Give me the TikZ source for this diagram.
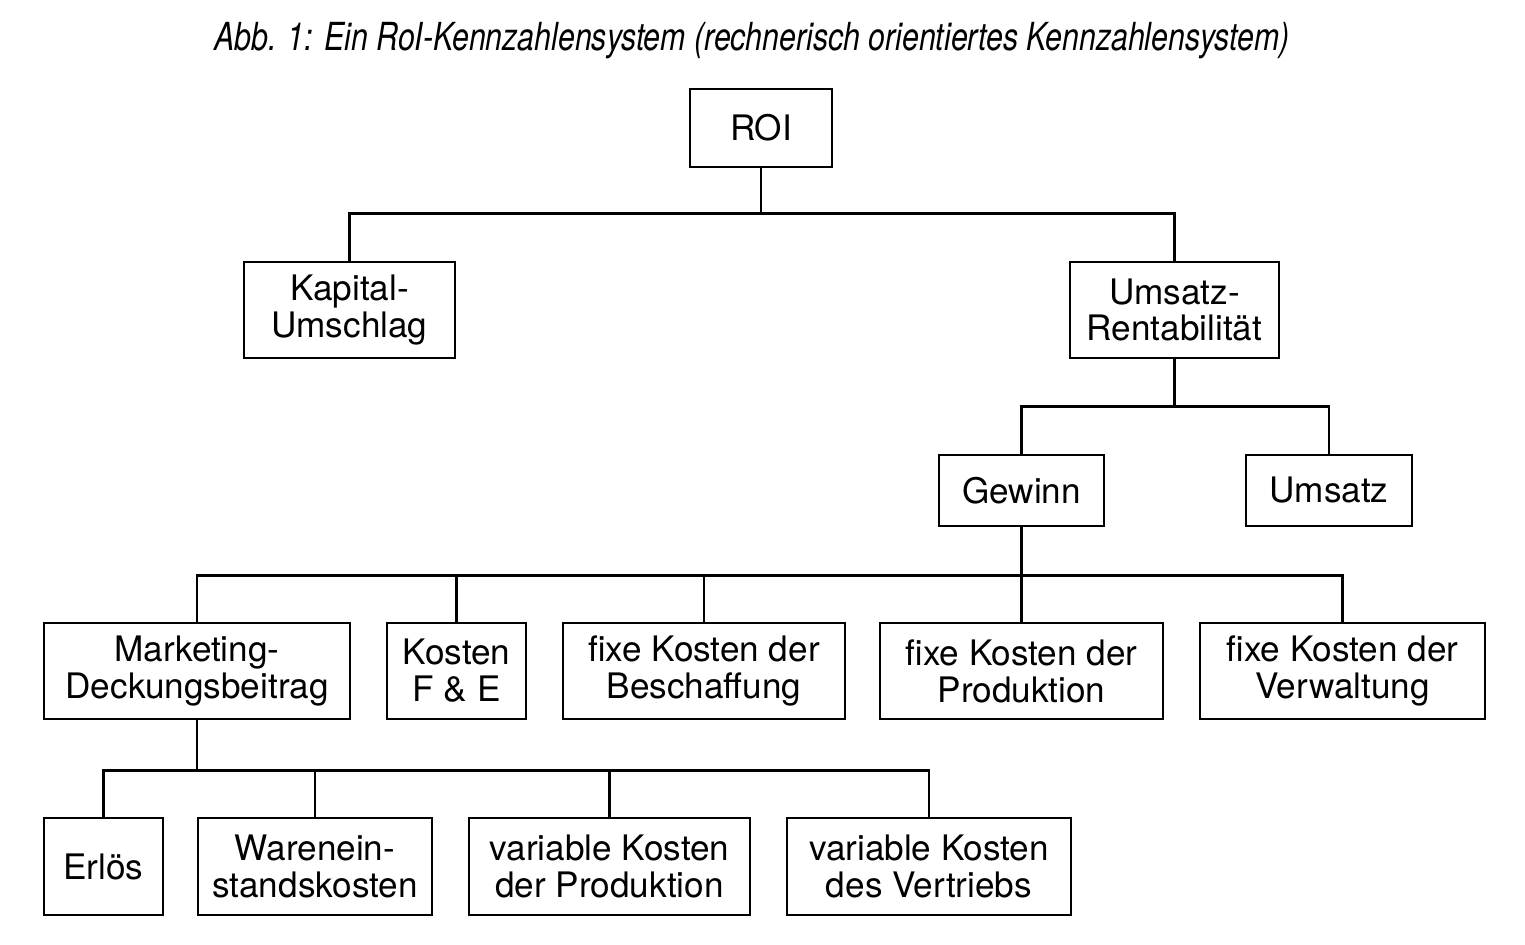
\documentclass[tikz,border=0pt]{standalone}
\usepackage{fontspec}
\setmainfont{TeX Gyre Heros}
\usepackage{graphicx}
\begin{document}
\begin{tikzpicture}[x=0.02cm,y=-0.02cm,
  box/.style={draw,line width=1.5pt,align=center,inner sep=0pt,
    font=\fontsize{20}{21}\selectfont},
  conn/.style={line width=1.5pt}]
\useasboundingbox (0,0) rectangle (1525,945);
\node[anchor=base] (title) at (752,51) {\resizebox{21.5cm}{\height}{\fontsize{22}{24}\selectfont\itshape Abb. 1: Ein RoI-Kennzahlensystem (rechnerisch orientiertes Kennzahlensystem)}};
\node[box,minimum width=2.84cm,minimum height=1.56cm] (roi) at (761,128) {ROI};
\node[box,minimum width=4.22cm,minimum height=1.92cm] (kap) at (349.5,310) {Kapital-\\Umschlag};
\node[box,minimum width=4.18cm,minimum height=1.92cm] (ur) at (1174.5,310) {Umsatz-\\Rentabilität};
\node[box,minimum width=3.30cm,minimum height=1.42cm] (gew) at (1021.5,490.5) {Gewinn};
\node[box,minimum width=3.32cm,minimum height=1.42cm] (ums) at (1329,490.5) {Umsatz};
\node[box,minimum width=6.12cm,minimum height=1.92cm] (md) at (197,671) {Marketing-\\Deckungsbeitrag};
\node[box,minimum width=2.78cm,minimum height=1.92cm] (kfe) at (456.5,671) {Kosten\\F \& E};
\node[box,minimum width=5.64cm,minimum height=1.92cm] (fkb) at (704,671) {fixe Kosten der\\Beschaffung};
\node[box,minimum width=5.66cm,minimum height=1.92cm] (fkp) at (1021.5,671) {fixe Kosten der\\Produktion};
\node[box,minimum width=5.70cm,minimum height=1.92cm] (fkv) at (1342.5,671) {fixe Kosten der\\Verwaltung};
\node[box,minimum width=2.38cm,minimum height=1.94cm] (erl) at (103.5,866.5) {Erlös};
\node[box,minimum width=4.68cm,minimum height=1.94cm] (wk) at (315,866.5) {Warenein-\\standskosten};
\node[box,minimum width=5.62cm,minimum height=1.94cm] (vkp) at (609.5,866.5) {variable Kosten\\der Produktion};
\node[box,minimum width=5.68cm,minimum height=1.94cm] (vkv) at (929,866.5) {variable Kosten\\des Vertriebs};
% connectors
\draw[conn] (roi.south) -- ++(0,45) -| (kap.north);
\draw[conn] (roi.south) ++(0,45) -| (ur.north);
\draw[conn] (ur.south) -- ++(0,47) -| (gew.north);
\draw[conn] (ur.south) ++(0,47) -| (ums.north);
\draw[conn] (gew.south) -- ++(0,48) -| (md.north);
\draw[conn] (gew.south) ++(0,48) -| (kfe.north);
\draw[conn] (gew.south) ++(0,48) -| (fkb.north);
\draw[conn] (gew.south) -- (fkp.north);
\draw[conn] (gew.south) ++(0,48) -| (fkv.north);
\draw[conn] (md.south) -- ++(0,50) -| (erl.north);
\draw[conn] (md.south) ++(0,50) -| (wk.north);
\draw[conn] (md.south) ++(0,50) -| (vkp.north);
\draw[conn] (md.south) ++(0,50) -| (vkv.north);
\end{tikzpicture}
\end{document}
